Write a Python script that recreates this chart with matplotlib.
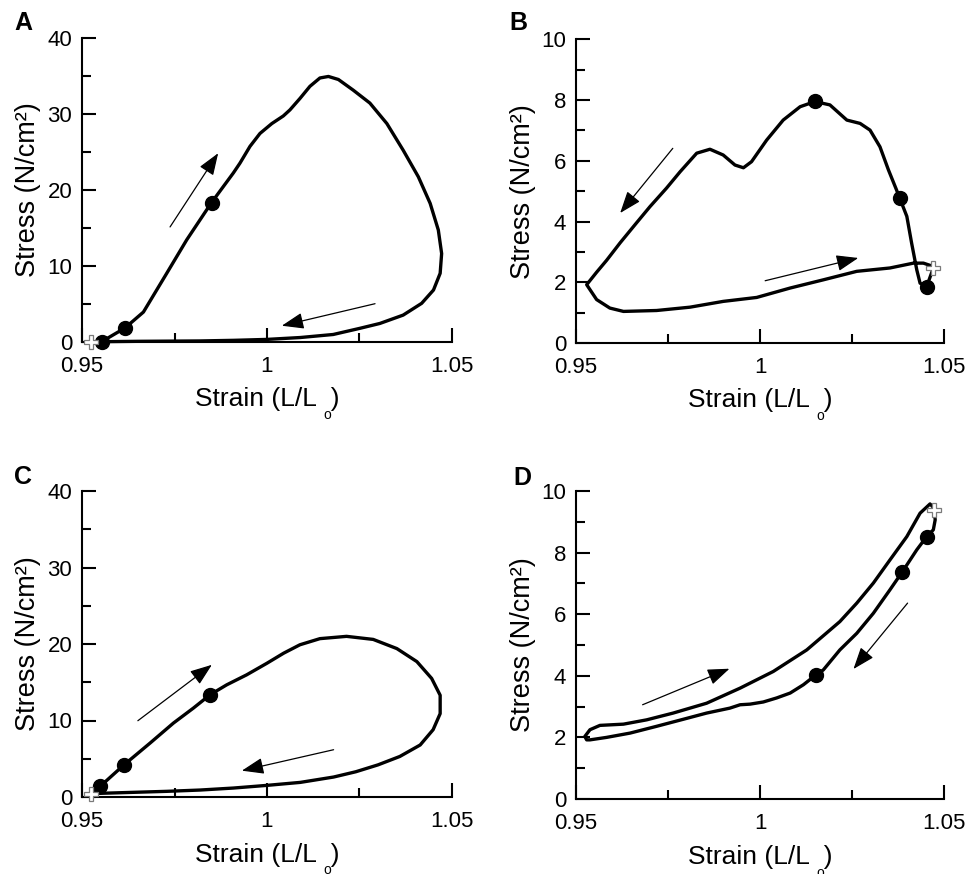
import matplotlib
matplotlib.use("Agg")
import matplotlib.pyplot as plt
from matplotlib.ticker import FixedLocator

plt.rcParams["font.family"] = ["Liberation Sans", "DejaVu Sans"]

# panel A: loop
a_x = [0.9523, 0.9553, 0.9616, 0.9666, 0.9729, 0.9783, 0.9850, 0.9909, 0.9927, 0.9954,
       0.9981, 1.0013, 1.0044, 1.0062, 1.0089, 1.0116, 1.0143, 1.0166, 1.0193, 1.0233,
       1.0278, 1.0324, 1.0368, 1.0409, 1.0441, 1.0463, 1.0472, 1.0468, 1.0450, 1.0418,
       1.0368, 1.0305, 1.0251, 1.0179, 1.0090, 0.9999, 0.9910, 0.9819, 0.9650, 0.9553]
a_y = [0.0, 0.0, 1.8, 3.9, 9.0, 13.4, 18.3, 22.2, 23.5, 25.7,
       27.4, 28.7, 29.7, 30.5, 32.0, 33.6, 34.7, 34.9, 34.5, 33.1,
       31.4, 28.7, 25.2, 21.7, 18.2, 14.7, 11.6, 9.0, 6.8, 5.05,
       3.5, 2.4, 1.76, 0.95, 0.55, 0.3, 0.18, 0.1, 0.05, 0.0]
a_dot_x = [0.9553, 0.9616, 0.9850]
a_dot_y = [0.0, 1.8, 18.3]
a_start = (0.9523, 0.0)

# panel B
b_x = [1.0471, 1.0453, 1.0435, 1.0426, 1.0412, 1.0399, 1.0380, 1.0371, 1.0349, 1.0326,
       1.0299, 1.0272, 1.0236, 1.0190, 1.0149, 1.0109, 1.0063, 1.0018, 0.9977, 0.9955,
       0.9932, 0.9900, 0.9864, 0.9828, 0.9783, 0.9746, 0.9701, 0.9662, 0.9620, 0.9583,
       0.9556, 0.9529, 0.9556, 0.9592, 0.9629, 0.9719, 0.9810, 0.9900, 0.9991, 1.0082,
       1.0172, 1.0263, 1.0353, 1.0417, 1.0444, 1.0471]
b_y = [2.47, 1.86, 1.97, 2.41, 3.29, 4.17, 4.76, 5.04, 5.70, 6.46,
       7.01, 7.23, 7.34, 7.84, 7.95, 7.78, 7.34, 6.68, 5.97, 5.77,
       5.86, 6.19, 6.38, 6.25, 5.64, 5.10, 4.49, 3.92, 3.30, 2.72,
       2.33, 1.92, 1.43, 1.15, 1.04, 1.07, 1.18, 1.37, 1.50, 1.81,
       2.08, 2.36, 2.47, 2.63, 2.63, 2.52]
b_dot_x = [1.0453, 1.0380, 1.0149]
b_dot_y = [1.86, 4.76, 7.98]
b_start = (1.0471, 2.47)

# panel C
c_x = [0.9523, 0.9549, 0.9614, 0.9684, 0.9747, 0.9801, 0.9846, 0.9891, 0.9945, 1.0000,
       1.0045, 1.0089, 1.0143, 1.0215, 1.0287, 1.0351, 1.0405, 1.0445, 1.0468, 1.0468,
       1.0449, 1.0414, 1.0359, 1.0300, 1.0240, 1.0180, 1.0090, 1.0000, 0.9909, 0.9819,
       0.9729, 0.9639, 0.9549, 0.9523]
c_y = [0.44, 1.39, 4.22, 7.05, 9.66, 11.62, 13.36, 14.66, 15.97, 17.49,
       18.80, 19.90, 20.70, 21.00, 20.60, 19.40, 17.70, 15.50, 13.30, 10.90,
       8.80, 6.80, 5.30, 4.20, 3.30, 2.61, 1.91, 1.52, 1.17, 0.91,
       0.74, 0.61, 0.48, 0.44]
c_dot_x = [0.9549, 0.9614, 0.9846]
c_dot_y = [1.39, 4.22, 13.36]
c_start = (0.9523, 0.44)

# panel D
d_x = [1.0474, 1.0476, 1.0471, 1.0453, 1.0426, 1.0387, 1.0353, 1.0308, 1.0263, 1.0217,
       1.0172, 1.0152, 1.0118, 1.0082, 1.0045, 1.0009, 0.9973, 0.9946, 0.9918, 0.9855,
       0.9792, 0.9719, 0.9647, 0.9583, 0.9538, 0.9529, 0.9524, 0.9538, 0.9565, 0.9629,
       0.9692, 0.9764, 0.9855, 0.9946, 1.0036, 1.0127, 1.0217, 1.0263, 1.0308, 1.0353,
       1.0399, 1.0435, 1.0462, 1.0474]
d_y = [9.38, 9.06, 8.74, 8.52, 8.09, 7.38, 6.79, 6.03, 5.38, 4.84,
       4.19, 4.03, 3.71, 3.44, 3.28, 3.15, 3.08, 3.06, 2.95, 2.79,
       2.59, 2.36, 2.14, 2.00, 1.92, 1.92, 2.03, 2.25, 2.39, 2.43,
       2.57, 2.79, 3.11, 3.60, 4.14, 4.84, 5.76, 6.36, 7.01, 7.76,
       8.52, 9.28, 9.58, 9.43]
d_dot_x = [1.0453, 1.0387, 1.0152]
d_dot_y = [8.52, 7.38, 4.03]
d_start = (1.0474, 9.38)

# direction arrows (tail, head)
a_arrows = [((0.9738, 15.1), (0.9868, 24.8)), ((1.0292, 5.0), (1.0040, 2.1))]
b_arrows = [((0.9763, 6.41), (0.9620, 4.28)), ((1.0014, 2.05), (1.0267, 2.80))]
c_arrows = [((0.9651, 9.97), (0.9851, 17.28)), ((1.0180, 6.18), (0.9932, 3.44))]
d_arrows = [((0.9681, 3.06), (0.9917, 4.23)), ((1.0401, 6.36), (1.0254, 4.22))]

x_ticks = [0.95, 1.0, 1.05]
x_ticklabels = ["0.95", "1", "1.05"]

W, H = 979, 874
fig = plt.figure(figsize=(W / 100, H / 100), dpi=100)


def make_axes(left, bottom, right, top):
    return fig.add_axes([left / W, 1 - bottom / H, (right - left) / W, (bottom - top) / H])


panels = [
    ("A", make_axes(82, 341.7, 452, 37.7), a_x, a_y, a_dot_x, a_dot_y, a_start, a_arrows, 40, 10, 5, (23, 23)),
    ("B", make_axes(576, 343, 944, 39.3), b_x, b_y, b_dot_x, b_dot_y, b_start, b_arrows, 10, 2, 1, (518, 23)),
    ("C", make_axes(82, 797, 452, 491), c_x, c_y, c_dot_x, c_dot_y, c_start, c_arrows, 40, 10, 5, (23, 477)),
    ("D", make_axes(576, 799, 944, 491), d_x, d_y, d_dot_x, d_dot_y, d_start, d_arrows, 10, 2, 1, (522, 478)),
]

for letter, ax, x, y, dx, dy, start, arrows, ymax, ystep, yminor, lpos in panels:
    ax.plot(x, y, color="black", lw=2.4, solid_capstyle="round", solid_joinstyle="round",
            clip_on=False, zorder=3)
    ax.plot(dx, dy, "o", color="black", ms=10, clip_on=False, zorder=4)
    ax.plot(*start, "P", mfc="white", mec="#7a7a7a", mew=0.9, ms=9.5, clip_on=False, zorder=5)
    for tail, head in arrows:
        ax.annotate("", xy=head, xytext=tail,
                    arrowprops=dict(arrowstyle="-|>,head_length=1.35,head_width=0.5",
                                    color="black", lw=0.9, shrinkA=0, shrinkB=0))

    ax.set_xlim(0.95, 1.05)
    ax.set_ylim(0, ymax)
    ax.spines["top"].set_visible(False)
    ax.spines["right"].set_visible(False)
    for side in ["left", "bottom"]:
        ax.spines[side].set_linewidth(1.5)

    ax.set_xticks(x_ticks)
    ax.set_xticklabels(x_ticklabels)
    ax.xaxis.set_minor_locator(FixedLocator([0.975, 1.025]))
    yt = list(range(0, ymax + 1, ystep))
    ax.set_yticks(yt)
    ax.set_yticklabels([str(v) for v in yt])
    ax.yaxis.set_minor_locator(FixedLocator([v for v in range(yminor, ymax, ystep)]))
    ax.tick_params(which="major", direction="in", length=10, width=1.5, labelsize=16, pad=7)
    ax.tick_params(which="minor", direction="in", length=6.5, width=1.5)
    ax.tick_params(axis="x", which="major", pad=10)

    ax.set_xlabel("Strain (L/L  )", fontsize=19, va="baseline")
    ax.xaxis.set_label_coords(0.5, -0.212)
    ax.text(0.664, -0.24, "o", fontsize=10, ha="center", va="center", transform=ax.transAxes)
    ax.set_ylabel("Stress (N/cm²)", fontsize=19.5, va="center")
    ax.yaxis.set_label_coords(-0.145, 0.5)

    fig.text(lpos[0] / W, 1 - lpos[1] / H, letter, fontsize=18, fontweight="bold",
             ha="center", va="center")

fig.savefig("out.png", dpi=100)
